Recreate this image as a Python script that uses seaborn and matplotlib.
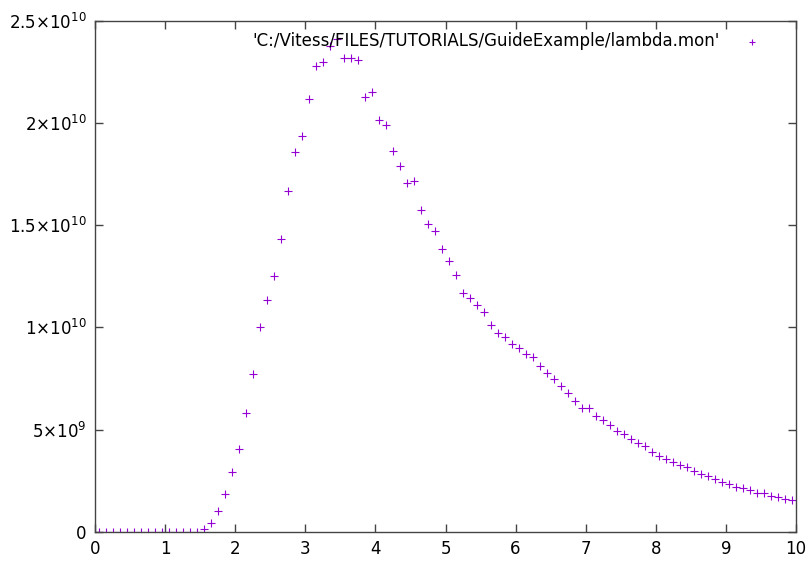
import numpy as np
import pandas as pd
import matplotlib
matplotlib.use("Agg")
import matplotlib.pyplot as plt
import seaborn as sns

# Wavelength bins (centres) and monitor counts (in units of 1e9)
wavelength = [round(0.05 + 0.1 * k, 2) for k in range(100)]
counts_e9 = [0.0] * 14 + [
    0.02, 0.14, 0.45, 1.03, 1.86, 2.95, 4.05, 5.8, 7.7, 10.0,
    11.32, 12.5, 14.3, 16.67, 18.55, 19.35, 21.15, 22.78, 22.96, 23.77,
    24.1, 23.15, 23.15, 23.08, 21.27, 21.5, 20.16, 19.87, 18.6, 17.89,
    17.07, 17.17, 15.76, 15.03, 14.70, 13.81, 13.25, 12.54, 11.69, 11.45,
    11.10, 10.73, 10.11, 9.71, 9.51, 9.17, 9.00, 8.70, 8.53, 8.11,
    7.77, 7.49, 7.15, 6.79, 6.38, 6.04, 6.06, 5.65, 5.46, 5.23,
    4.92, 4.79, 4.56, 4.33, 4.19, 3.92, 3.73, 3.55, 3.40, 3.27,
    3.16, 2.98, 2.82, 2.72, 2.57, 2.44, 2.34, 2.21, 2.15, 2.05,
    1.92, 1.89, 1.77, 1.72, 1.63, 1.56,
]
series_label = "'C:/Vitess/FILES/TUTORIALS/GuideExample/lambda.mon'"
x_ticks = list(range(0, 11))
y_ticks = [0, 5e9, 1e10, 1.5e10, 2e10, 2.5e10]
y_tick_labels = ["0", r"$5{\times}10^{9}$", r"$1{\times}10^{10}$",
                 r"$1.5{\times}10^{10}$", r"$2{\times}10^{10}$", r"$2.5{\times}10^{10}$"]

df = pd.DataFrame({"lambda": wavelength, "counts": np.array(counts_e9) * 1e9})

sns.set_style("ticks")
plt.rcParams["font.family"] = ["DejaVu Sans"]
plt.rcParams["mathtext.fontset"] = "dejavusans"

fig = plt.figure(figsize=(8.1, 5.62), dpi=100)
ax = fig.add_axes([95 / 810, 1 - 532 / 562, (796 - 95) / 810, (532 - 20.5) / 562])

sns.scatterplot(data=df, x="lambda", y="counts", marker="+", color="#9400D3",
                s=28, linewidth=0.8, label=series_label, ax=ax)

ax.set_xlim(0, 10)
ax.set_ylim(0, 2.5e10)
ax.set_xticks(x_ticks)
ax.set_xticklabels([str(t) for t in x_ticks])
ax.set_yticks(y_ticks)
ax.set_yticklabels(y_tick_labels)
ax.set_xlabel("")
ax.set_ylabel("")

for sp in ax.spines.values():
    sp.set_color("#444444")
    sp.set_linewidth(1.0)
ax.tick_params(direction="in", length=6, width=1, color="#444444",
               top=True, right=True, labelsize=12, labelcolor="black", pad=6)

leg = ax.legend(loc="upper right", bbox_to_anchor=(0.972, 1.0), frameon=False,
                markerfirst=False, fontsize=12, handletextpad=1.2,
                borderaxespad=0.3, handlelength=1.5, markerscale=0.8)
for t in leg.get_texts():
    t.set_color("black")

fig.savefig("out.png", dpi=100)
